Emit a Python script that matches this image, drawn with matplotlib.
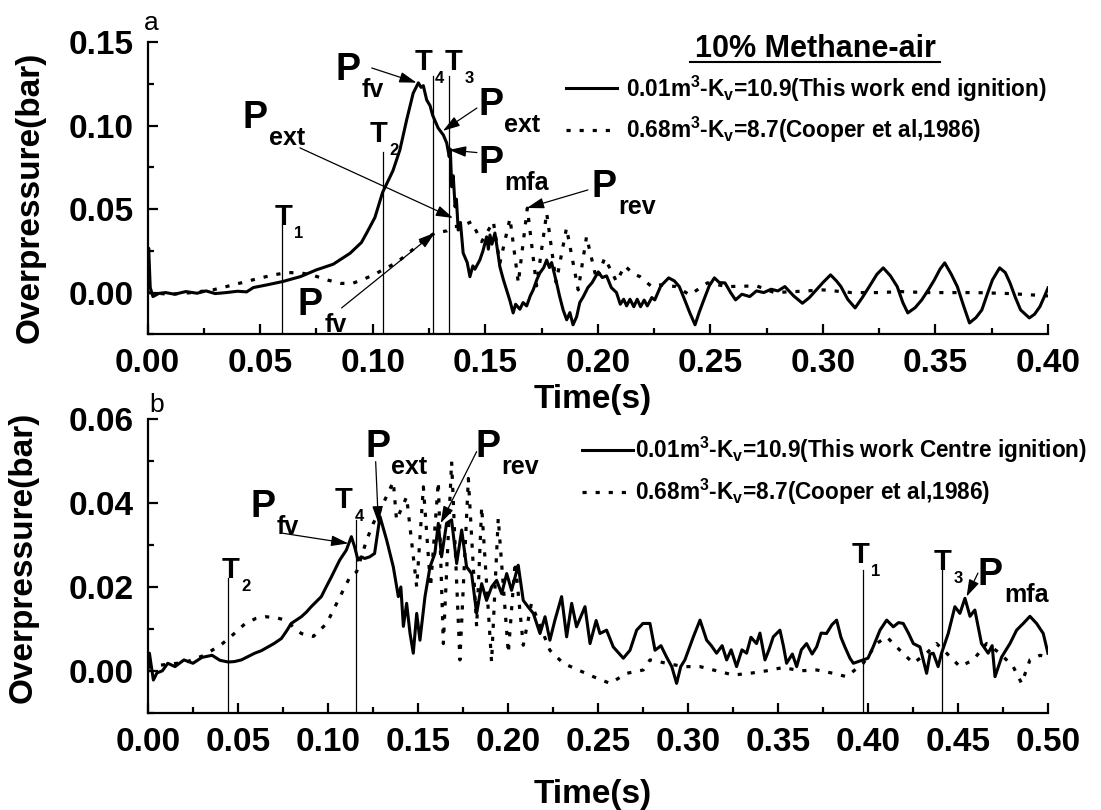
import matplotlib
matplotlib.use("Agg")
import matplotlib.pyplot as plt
from matplotlib.lines import Line2D
from matplotlib.ticker import MultipleLocator, FormatStrFormatter

plt.rcParams['font.family'] = ['Liberation Sans', 'DejaVu Sans']
plt.rcParams['mathtext.fontset'] = 'custom'
plt.rcParams['mathtext.bf'] = 'Liberation Sans:bold'
plt.rcParams['mathtext.rm'] = 'Liberation Sans:bold'

# ---- panel a: 10% methane-air, end ignition vs Cooper et al ----
ta_work = [0.0000, 0.0005, 0.0012, 0.0024, 0.0050, 0.0080, 0.0120, 0.0170, 0.0220, 0.0260,
           0.0300, 0.0350, 0.0400, 0.0440, 0.0470, 0.0530, 0.0600, 0.0680, 0.0750, 0.0825,
           0.0900, 0.0950, 0.0973, 0.1010, 0.1044, 0.1090, 0.1121, 0.1151, 0.1180, 0.1203,
           0.1215, 0.1225, 0.1240, 0.1255, 0.1266, 0.1291, 0.1314, 0.1329, 0.1340, 0.1345,
           0.1351, 0.1358, 0.1366, 0.1372, 0.1380, 0.1390, 0.1402, 0.1420, 0.1432, 0.1445,
           0.1454, 0.1476, 0.1490, 0.1506, 0.1514, 0.1521, 0.1530, 0.1543, 0.1555, 0.1565,
           0.1580, 0.1595, 0.1610, 0.1624, 0.1635, 0.1654, 0.1668, 0.1684, 0.1700, 0.1713,
           0.1730, 0.1743, 0.1760, 0.1773, 0.1785, 0.1795, 0.1817, 0.1830, 0.1846, 0.1862,
           0.1876, 0.1890, 0.1906, 0.1920, 0.1935, 0.1956, 0.1975, 0.2002, 0.2020, 0.2039,
           0.2060, 0.2083, 0.2100, 0.2115, 0.2128, 0.2143, 0.2160, 0.2175, 0.2190, 0.2206,
           0.2220, 0.2240, 0.2253, 0.2280, 0.2315, 0.2340, 0.2362, 0.2385, 0.2409, 0.2432,
           0.2450, 0.2471, 0.2495, 0.2518, 0.2540, 0.2565, 0.2590, 0.2612, 0.2640, 0.2675,
           0.2705, 0.2737, 0.2770, 0.2800, 0.2831, 0.2870, 0.2909, 0.2940, 0.2971, 0.3000,
           0.3034, 0.3060, 0.3080, 0.3110, 0.3143, 0.3175, 0.3206, 0.3240, 0.3268, 0.3300,
           0.3330, 0.3355, 0.3377, 0.3410, 0.3439, 0.3470, 0.3495, 0.3520, 0.3541, 0.3570,
           0.3597, 0.3625, 0.3651, 0.3680, 0.3706, 0.3730, 0.3753, 0.3785, 0.3810, 0.3831,
           0.3855, 0.3878, 0.3917, 0.3940, 0.3964, 0.3985, 0.4000]
pa_work = [0.0000, 0.0266, 0.0030, -0.0024, -0.0005, 0.0000, -0.0010, 0.0006, -0.0004, 0.0010,
           -0.0006, 0.0000, 0.0008, 0.0004, 0.0030, 0.0046, 0.0066, 0.0096, 0.0136, 0.0170,
           0.0236, 0.0300, 0.0356, 0.0450, 0.0600, 0.0730, 0.0855, 0.1035, 0.1195, 0.1257,
           0.1230, 0.1240, 0.1154, 0.1120, 0.1064, 0.0986, 0.0944, 0.0896, 0.0814, 0.0860,
           0.0634, 0.0700, 0.0514, 0.0560, 0.0375, 0.0420, 0.0237, 0.0180, 0.0095, 0.0160,
           0.0140, 0.0195, 0.0250, 0.0334, 0.0260, 0.0345, 0.0290, 0.0357, 0.0250, 0.0155,
           0.0080, 0.0016, -0.0050, -0.0122, -0.0070, -0.0100, -0.0060, -0.0080, -0.0020, 0.0016,
           0.0080, 0.0118, 0.0150, 0.0195, 0.0150, 0.0180, 0.0058, -0.0020, -0.0104, -0.0163,
           -0.0120, -0.0193, -0.0145, -0.0060, -0.0026, 0.0030, 0.0060, 0.0124, 0.0090, 0.0100,
           0.0030, 0.0000, -0.0070, -0.0040, -0.0080, -0.0040, -0.0085, -0.0040, -0.0085, -0.0045,
           -0.0080, -0.0030, -0.0044, 0.0040, 0.0088, 0.0070, 0.0036, -0.0040, -0.0122, -0.0193,
           -0.0120, -0.0044, 0.0040, 0.0088, 0.0060, 0.0058, 0.0000, -0.0044, -0.0010, -0.0024,
           0.0010, 0.0000, 0.0020, 0.0010, 0.0036, -0.0020, -0.0064, -0.0030, 0.0016, 0.0060,
           0.0106, 0.0070, 0.0036, -0.0040, -0.0092, -0.0030, 0.0036, 0.0110, 0.0148, 0.0100,
           0.0036, -0.0060, -0.0122, -0.0090, -0.0044, 0.0020, 0.0076, 0.0140, 0.0178, 0.0110,
           0.0036, -0.0080, -0.0182, -0.0150, -0.0104, -0.0010, 0.0076, 0.0148, 0.0120, 0.0058,
           -0.0030, -0.0104, -0.0152, -0.0130, -0.0084, -0.0020, 0.0028]

ta_cooper = [0.000, 0.010, 0.020, 0.029, 0.038, 0.0467, 0.0556, 0.0620, 0.0680, 0.0734,
             0.0800, 0.0860, 0.0910, 0.0960, 0.1010, 0.1050, 0.1100, 0.1135, 0.1180, 0.1225,
             0.1277, 0.1330, 0.1360, 0.1400, 0.1439, 0.1484, 0.1536, 0.1565, 0.1610, 0.1647,
             0.1687, 0.1728, 0.1773, 0.1815, 0.1861, 0.1913, 0.1950, 0.1994, 0.2031, 0.2083,
             0.2120, 0.2160, 0.2187, 0.2239, 0.2278, 0.2347, 0.2409, 0.2487, 0.2576, 0.2706,
             0.2784, 0.2878, 0.3002, 0.3127, 0.3253, 0.3346, 0.3457, 0.3674, 0.3831, 0.4000]
pa_cooper = [0.000, -0.001, 0.000, 0.0016, 0.0046, 0.0076, 0.0105, 0.0120, 0.0118, 0.0104,
             0.0075, 0.0055, 0.0055, 0.0080, 0.0110, 0.0140, 0.0175, 0.0210, 0.0260, 0.0316,
             0.0357, 0.0370, 0.0395, 0.0400, 0.0425, 0.0305, 0.0425, 0.0177, 0.0445, 0.0058,
             0.0506, 0.0040, 0.0477, 0.0060, 0.0387, 0.0016, 0.0335, 0.0080, 0.0207, 0.0066,
             0.0160, 0.0110, 0.0096, 0.0036, 0.0046, 0.0036, -0.0014, 0.0058, 0.0036, 0.0040,
             0.0000, 0.0006, 0.0016, 0.0000, 0.0000, 0.0006, 0.0000, 0.0000, -0.0006, -0.0020]

# ---- panel b: centre ignition vs Cooper et al ----
tb_work = [0.0000, 0.0008, 0.0030, 0.0050, 0.0080, 0.0110, 0.0150, 0.0200, 0.0250, 0.0300,
           0.0356, 0.0400, 0.0446, 0.0480, 0.0519, 0.0560, 0.0593, 0.0630, 0.0667, 0.0700,
           0.0741, 0.0770, 0.0796, 0.0852, 0.0880, 0.0907, 0.0963, 0.0990, 0.1019, 0.1065,
           0.1102, 0.1130, 0.1148, 0.1167, 0.1185, 0.1204, 0.1232, 0.1259, 0.1289, 0.1326,
           0.1363, 0.1391, 0.1405, 0.1419, 0.1437, 0.1456, 0.1474, 0.1493, 0.1511, 0.1539,
           0.1567, 0.1594, 0.1613, 0.1631, 0.1659, 0.1687, 0.1715, 0.1743, 0.1770, 0.1798,
           0.1826, 0.1854, 0.1881, 0.1909, 0.1937, 0.1965, 0.1993, 0.2020, 0.2057, 0.2085,
           0.2113, 0.2141, 0.2178, 0.2206, 0.2233, 0.2261, 0.2298, 0.2326, 0.2354, 0.2381,
           0.2428, 0.2456, 0.2490, 0.2511, 0.2548, 0.2585, 0.2641, 0.2678, 0.2715, 0.2750,
           0.2789, 0.2817, 0.2850, 0.2881, 0.2910, 0.2937, 0.2960, 0.2983, 0.3030, 0.3067,
           0.3104, 0.3130, 0.3159, 0.3190, 0.3215, 0.3240, 0.3270, 0.3300, 0.3326, 0.3350,
           0.3381, 0.3400, 0.3428, 0.3450, 0.3474, 0.3511, 0.3530, 0.3548, 0.3580, 0.3604,
           0.3630, 0.3659, 0.3690, 0.3715, 0.3740, 0.3770, 0.3800, 0.3826, 0.3850, 0.3872,
           0.3900, 0.3919, 0.3974, 0.4000, 0.4029, 0.4067, 0.4104, 0.4141, 0.4170, 0.4196,
           0.4225, 0.4252, 0.4289, 0.4326, 0.4345, 0.4363, 0.4390, 0.4409, 0.4446, 0.4483,
           0.4511, 0.4539, 0.4567, 0.4594, 0.4631, 0.4668, 0.4690, 0.4706, 0.4743, 0.4789,
           0.4826, 0.4863, 0.4900, 0.4937, 0.4974, 0.5000]
pb_work = [0.0000, 0.0042, -0.0022, -0.0005, 0.0000, 0.0018, 0.0010, 0.0026, 0.0018, 0.0032,
           0.0037, 0.0025, 0.0021, 0.0022, 0.0026, 0.0035, 0.0042, 0.0048, 0.0057, 0.0065,
           0.0077, 0.0095, 0.0113, 0.0129, 0.0140, 0.0153, 0.0177, 0.0200, 0.0224, 0.0264,
           0.0288, 0.0320, 0.0296, 0.0264, 0.0272, 0.0268, 0.0272, 0.0280, 0.0368, 0.0312,
           0.0248, 0.0177, 0.0200, 0.0106, 0.0161, 0.0089, 0.0042, 0.0137, 0.0073, 0.0177,
           0.0248, 0.0280, 0.0352, 0.0272, 0.0352, 0.0360, 0.0256, 0.0336, 0.0248, 0.0232,
           0.0137, 0.0208, 0.0168, 0.0200, 0.0216, 0.0184, 0.0232, 0.0192, 0.0252, 0.0168,
           0.0152, 0.0137, 0.0089, 0.0129, 0.0073, 0.0121, 0.0177, 0.0081, 0.0161, 0.0105,
           0.0153, 0.0065, 0.0120, 0.0089, 0.0097, 0.0057, 0.0030, 0.0049, 0.0097, 0.0113,
           0.0113, 0.0049, 0.0060, 0.0033, 0.0010, -0.0030, 0.0010, 0.0026, 0.0081, 0.0121,
           0.0073, 0.0060, 0.0042, 0.0060, 0.0026, 0.0050, 0.0010, 0.0050, 0.0042, 0.0080,
           0.0065, 0.0090, 0.0026, 0.0050, 0.0081, 0.0097, 0.0060, 0.0018, 0.0040, 0.0010,
           0.0050, 0.0065, 0.0040, 0.0057, 0.0090, 0.0089, 0.0110, 0.0121, 0.0080, 0.0057,
           0.0030, 0.0018, 0.0026, 0.0030, 0.0057, 0.0097, 0.0121, 0.0105, 0.0115, 0.0113,
           0.0090, 0.0065, 0.0057, -0.0006, 0.0040, 0.0042, 0.0010, 0.0042, 0.0089, 0.0153,
           0.0137, 0.0173, 0.0130, 0.0145, 0.0065, 0.0042, 0.0060, -0.0014, 0.0033, 0.0065,
           0.0097, 0.0113, 0.0130, 0.0113, 0.0089, 0.0042]

tb_cooper = [0.0000, 0.0100, 0.0207, 0.0300, 0.0356, 0.0400, 0.0459, 0.0541, 0.0600, 0.0652,
             0.0710, 0.0763, 0.0852, 0.0919, 0.0993, 0.1067, 0.1122, 0.1159, 0.1215, 0.1252,
             0.1298, 0.1363, 0.1381, 0.1437, 0.1493, 0.1530, 0.1570, 0.1613, 0.1641, 0.1687,
             0.1733, 0.1780, 0.1826, 0.1854, 0.1909, 0.1946, 0.2002, 0.2040, 0.2085, 0.2130,
             0.2233, 0.2307, 0.2390, 0.2474, 0.2567, 0.2660, 0.2752, 0.2789, 0.2881, 0.2974,
             0.3067, 0.3159, 0.3252, 0.3344, 0.3437, 0.3530, 0.3622, 0.3715, 0.3807, 0.3881,
             0.3974, 0.4048, 0.4104, 0.4178, 0.4252, 0.4326, 0.4381, 0.4437, 0.4511, 0.4585,
             0.4659, 0.4733, 0.4807, 0.4854, 0.4900, 0.4956, 0.5000]
pb_cooper = [0.0010, 0.0015, 0.0020, 0.0035, 0.0049, 0.0060, 0.0081, 0.0113, 0.0125, 0.0129,
             0.0127, 0.0121, 0.0089, 0.0082, 0.0113, 0.0177, 0.0224, 0.0236, 0.0312, 0.0352,
             0.0391, 0.0451, 0.0360, 0.0415, 0.0200, 0.0439, 0.0200, 0.0451, 0.0065, 0.0499,
             0.0026, 0.0459, 0.0105, 0.0391, 0.0021, 0.0364, 0.0042, 0.0260, 0.0061, 0.0160,
             0.0049, 0.0018, 0.0002, -0.0014, -0.0030, -0.0006, 0.0002, 0.0026, 0.0018, 0.0010,
             0.0010, 0.0000, -0.0010, -0.0006, 0.0000, 0.0008, 0.0000, 0.0002, -0.0006, -0.0014,
             0.0018, 0.0065, 0.0081, 0.0049, 0.0018, 0.0042, 0.0065, 0.0042, 0.0010, 0.0026,
             0.0065, 0.0042, 0.0010, -0.0030, 0.0026, 0.0037, 0.0033]

# time markers: (name, time, top of line)
marks_a = [("1", 0.0597, 0.0405), ("2", 0.1044, 0.0844), ("4", 0.1266, 0.1298), ("3", 0.1337, 0.1298)]
marks_b = [("2", 0.0446, 0.0221), ("4", 0.1156, 0.0360), ("1", 0.3974, 0.0240), ("3", 0.4410, 0.0240)]

DOT = (0, (1.3, 2.8))


def px(x, y):
    return x / 1101, 1 - y / 810


def p_label(ax, x, y, sub):
    ax.text(x, y, 'P', fontsize=27, fontweight='bold', ha='left', va='baseline')
    ax.annotate(sub, (x, y), xytext=(19, -12.5), textcoords='offset points',
                fontsize=18, fontweight='bold', ha='left', va='baseline')


def t_label(ax, x, y, sub):
    ax.text(x, y, 'T', fontsize=21, fontweight='bold', ha='left', va='baseline')
    ax.annotate(sub, (x, y), xytext=(14, -9.5), textcoords='offset points',
                fontsize=12, fontweight='bold', ha='left', va='baseline')


def arrow(ax, tail, tip):
    ax.annotate('', xy=tip, xytext=tail,
                arrowprops=dict(arrowstyle='-|>,head_length=0.8,head_width=0.25', color='k',
                                lw=0.9, mutation_scale=13, shrinkA=0, shrinkB=0))


def style(ax, xmax, ymin, ymax, ymaj):
    ax.set_xlim(0, xmax)
    ax.set_ylim(ymin, ymax)
    for s in ('top', 'right'):
        ax.spines[s].set_visible(False)
    for s in ('left', 'bottom'):
        ax.spines[s].set_linewidth(1.6)
    ax.xaxis.set_major_locator(MultipleLocator(0.05))
    ax.xaxis.set_minor_locator(MultipleLocator(0.025))
    ax.yaxis.set_major_locator(MultipleLocator(ymaj))
    ax.yaxis.set_minor_locator(MultipleLocator(ymaj / 2))
    ax.xaxis.set_major_formatter(FormatStrFormatter('%.2f'))
    ax.yaxis.set_major_formatter(FormatStrFormatter('%.2f'))
    ax.tick_params(which='both', direction='in', width=1.6, labelsize=24, pad=10,
                   top=False, right=False)
    ax.tick_params(which='major', length=7)
    ax.tick_params(which='minor', length=4.5)
    for lab in ax.get_xticklabels() + ax.get_yticklabels():
        lab.set_fontweight('bold')


fig = plt.figure(figsize=(11.01, 8.10), dpi=100)
ax1 = fig.add_axes([0.1340, 0.5873, 0.8179, 0.3605])
ax2 = fig.add_axes([0.1344, 0.1201, 0.8174, 0.3622])

# ---------------- panel a ----------------
ax1.plot(ta_work, pa_work, color='k', lw=2.2)
ax1.plot(ta_cooper, pa_cooper, color='k', lw=2.3, linestyle=DOT)
for name, t, top in marks_a:
    ax1.plot([t, t], [-0.025, top], color='k', lw=0.9)
style(ax1, 0.40, -0.025, 0.15, 0.05)
ax1.set_yticks([0.0, 0.05, 0.10, 0.15])
ax1.set_xlabel('Time(s)', fontsize=24, fontweight='bold')
ax1.xaxis.set_label_coords(0.494, -0.17)
ax1.set_ylabel('Overpressure(bar)', fontsize=24, fontweight='bold')
ax1.yaxis.set_label_coords(-0.113, 0.47)
ax1.text(-0.004, 1.042, 'a', transform=ax1.transAxes, fontsize=19, va='baseline')

t_label(ax1, 0.0566, 0.0405, '1')
t_label(ax1, 0.0988, 0.0903, '2')
t_label(ax1, 0.1188, 0.1334, '4')
t_label(ax1, 0.1321, 0.1334, '3')

p_label(ax1, 0.0833, 0.1274, 'fv')
arrow(ax1, (0.0996, 0.1346), (0.1195, 0.1258))
p_label(ax1, 0.0424, 0.0987, 'ext')
arrow(ax1, (0.0677, 0.0867), (0.1357, 0.0447))
p_label(ax1, 0.0668, -0.0134, 'fv')
arrow(ax1, (0.0862, -0.0092), (0.1277, 0.0359))
p_label(ax1, 0.1468, 0.1064, 'ext')
arrow(ax1, (0.1463, 0.1106), (0.1312, 0.0969))
p_label(ax1, 0.1468, 0.0717, 'mfa')
arrow(ax1, (0.1463, 0.0839), (0.1339, 0.0855))
p_label(ax1, 0.1974, 0.0573, 'rev')
arrow(ax1, (0.1956, 0.0615), (0.1685, 0.0507))

# ---------------- panel b ----------------
ax2.plot(tb_work, pb_work, color='k', lw=2.2)
ax2.plot(tb_cooper, pb_cooper, color='k', lw=2.3, linestyle=DOT)
for name, t, top in marks_b:
    ax2.plot([t, t], [-0.01, top], color='k', lw=0.9)
style(ax2, 0.50, -0.01, 0.06, 0.02)
ax2.set_yticks([0.0, 0.02, 0.04, 0.06])
ax2.set_xlabel('Time(s)', fontsize=24, fontweight='bold')
ax2.xaxis.set_label_coords(0.494, -0.225)
ax2.set_ylabel('Overpressure(bar)', fontsize=24, fontweight='bold')
ax2.yaxis.set_label_coords(-0.122, 0.53)
ax2.text(0.002, 1.025, 'b', transform=ax2.transAxes, fontsize=19, va='baseline')

t_label(ax2, 0.0411, 0.0221, '2')
t_label(ax2, 0.1039, 0.0388, '4')
t_label(ax2, 0.3911, 0.0257, '1')
t_label(ax2, 0.4367, 0.0240, '3')

p_label(ax2, 0.0567, 0.0367, 'fv')
arrow(ax2, (0.0752, 0.0328), (0.1113, 0.0304))
p_label(ax2, 0.1206, 0.0510, 'ext')
arrow(ax2, (0.1265, 0.0499), (0.1280, 0.0352))
p_label(ax2, 0.1817, 0.0510, 'rev')
arrow(ax2, (0.1826, 0.0523), (0.1626, 0.0352))
p_label(ax2, 0.4611, 0.0205, 'mfa')
arrow(ax2, (0.4611, 0.0233), (0.4548, 0.0177))

# ---------------- title and legends ----------------
fig.text(*px(815, 57), '10% Methane-air', ha='center', va='baseline', fontsize=22, fontweight='bold')
fig.add_artist(Line2D([690 / 1101, 940 / 1101], [1 - 62 / 810] * 2, color='k', lw=1.5))

leg = [
    (566, 617, 88, 97, '-', r'0.01m$^{\mathbf{3}}$-K$_{\mathbf{v}}$=10.9(This work end ignition)', 626),
    (566, 612, 130, 138, DOT, r'0.68m$^{\mathbf{3}}$-K$_{\mathbf{v}}$=8.7(Cooper et al,1986)', 626),
    (582, 633, 450, 458, '-', r'0.01m$^{\mathbf{3}}$-K$_{\mathbf{v}}$=10.9(This work Centre ignition)', 635),
    (582, 630, 492, 500, DOT, r'0.68m$^{\mathbf{3}}$-K$_{\mathbf{v}}$=8.7(Cooper et al,1986)', 635),
]
for x0, x1, yl, yb, ls, txt, xt in leg:
    fig.add_artist(Line2D([x0 / 1101, x1 / 1101], [1 - yl / 810] * 2, color='k',
                          lw=2.2 if ls == '-' else 2.3, linestyle=ls))
    fig.text(*px(xt, yb), txt, ha='left', va='baseline', fontsize=16.3, fontweight='bold')

fig.savefig('out.png', dpi=100)
